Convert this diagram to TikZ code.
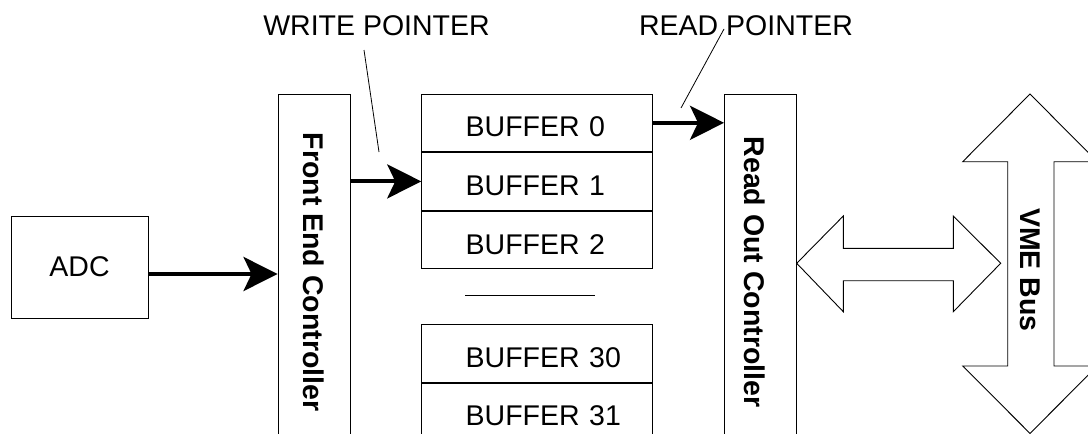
\documentclass[tikz,border=0pt]{standalone}
\usepackage{fontspec}
\setmainfont{Liberation Sans}
\usetikzlibrary{arrows.meta}
\usetikzlibrary{positioning}
\newcommand{\diagsize}{\fontsize{28.5}{34}\selectfont}
\tikzset{
    box/.style={draw=black, line width=0.9pt, inner sep=0pt},
    controller/.style={box, minimum width=72pt, minimum height=356pt, font=\diagsize\bfseries},
    bufferbox/.style={box, minimum width=231pt, minimum height=57.7pt,
        text width=143pt, align=left, inner xsep=44pt, text height=28pt, text depth=0pt},
    sideways/.style={font=\diagsize\bfseries},
    link/.style={draw=black, line width=4pt, -{Stealth[length=34pt, width=34pt, inset=8pt]}},
    pointer/.style={draw=black, line width=0.8pt},
    hollow/.style={draw=black, line width=0.9pt, fill=white, line join=miter},
}

\begin{document}
\begin{tikzpicture}[x=1pt, y=-1pt, font=\diagsize]

\useasboundingbox (0,0) rectangle (1088,434);

		% blocks
		\node[box, minimum width=137pt, minimum height=102pt] (adc) at (79.5,267) {ADC};
		\node[controller] (fec) at (314,272) {\rotatebox{-90}{Front End Controller}};
		\node[controller] (roc) at (760.5,272) {};
		\node[sideways] (roclabel) at (755,272) {\rotatebox{-90}{Read Out Controller}};

		% buffers
		\node[bufferbox] (buf0) at (537.2,122.8) {BUFFER~0};
		\node[bufferbox, below=0pt of buf0] (buf1) {BUFFER~1};
		\node[bufferbox, below=0pt of buf1] (buf2) {BUFFER~2};
		\coordinate (gapl) at (465,295);
		\coordinate (gapr) at (595,295);
		\draw[pointer] (gapl) -- (gapr);
		\node[bufferbox] (buf30) at (537.2,353.3) {BUFFER~30};
		\node[bufferbox, below=0pt of buf30] (buf31) {BUFFER~31};

		% data path
		\draw[link] ([yshift=-7pt]adc.east) -- ([yshift=-7pt]adc.east -| fec.west);
		\draw[link] (buf1.west -| fec.east) -- (buf1.west);
		\draw[link] (buf0.east) -- (buf0.east -| roc.west);

		% pointers
		\node (wp) at (376.5,26) {WRITE POINTER};
		\coordinate (wpfoot) at (364,50);
		\coordinate (wptip) at (379,152);
		\draw[pointer] (wpfoot) -- (wptip);
		\node (rp) at (746,26) {READ POINTER};
		\coordinate (rpfoot) at (724,29);
		\coordinate (rptip) at (681,108);
		\draw[pointer] (rpfoot) -- (rptip);

		% link to the bus
		\draw[hollow] (796.7,263.3) -- (843.3,216) -- (843.3,248.3) -- (953.3,248.3)
			-- (953.3,216) -- (1000.7,263.3) -- (953.3,311.7) -- (953.3,280.7)
			-- (843.3,280.7) -- (843.3,311.7) -- cycle;

		% VME bus
		\draw[hollow] (1030,94) -- (1097.3,161.7) -- (1054,161.7) -- (1054,366)
			-- (1097.3,366) -- (1030,433.4) -- (962.7,366) -- (1007.7,366)
			-- (1007.7,161.7) -- (962.7,161.7) -- cycle;
		\node[sideways] (vme) at (1030,270) {\rotatebox{-90}{VME Bus}};

\end{tikzpicture}
\end{document}
